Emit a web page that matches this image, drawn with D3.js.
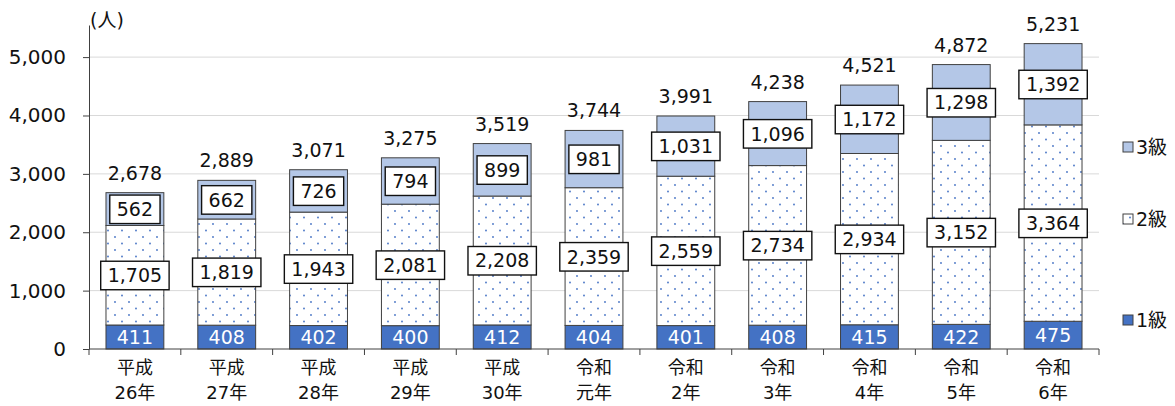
<!DOCTYPE html>
<html>
<head>
<meta charset="utf-8">
<script src="https://cdn.jsdelivr.net/npm/d3@7"></script>
<style>
  body { margin: 0; background: #fff; }
  text { font-family: "DejaVu Sans", "Noto Sans CJK JP", sans-serif; }
</style>
</head>
<body>
<div id="chart"></div>
<script>
// 年度
const years = ["平成,26年", "平成,27年", "平成,28年", "平成,29年", "平成,30年",
  "令和,元年", "令和,2年", "令和,3年", "令和,4年", "令和,5年", "令和,6年"];
// 等級ごとの人数
const kyu1 = [411, 408, 402, 400, 412, 404, 401, 408, 415, 422, 475];
const kyu2 = [1705, 1819, 1943, 2081, 2208, 2359, 2559, 2734, 2934, 3152, 3364];
const kyu3 = [562, 662, 726, 794, 899, 981, 1031, 1096, 1172, 1298, 1392];
const yTicks = [0, 1000, 2000, 3000, 4000, 5000];

const W = 1175, H = 406;
const svg = d3.select('#chart').append('svg')
  .attr('width', W)
  .attr('height', H);

const defs = svg.append('defs');
const pat = defs.append('pattern')
  .attr('id', 'dots')
  .attr('patternUnits', 'userSpaceOnUse')
  .attr('width', 14)
  .attr('height', 13);
pat.append('rect').attr('width', 14).attr('height', 13).attr('fill', '#fff');
pat.append('circle').attr('cx', 3).attr('cy', 3).attr('r', 0.9).attr('fill', '#4472c4');
pat.append('circle').attr('cx', 10).attr('cy', 9.5).attr('r', 0.9).attr('fill', '#4472c4');

const x = d3.scaleBand().domain(years).range([89, 1099]).paddingInner(0.37).paddingOuter(0.185);
const y = d3.scaleLinear().domain([0, 5550]).range([349, 25]);

// グリッド線
svg.selectAll('line.grid')
  .data(yTicks.slice(1))
  .enter()
  .append('line')
  .attr('x1', 89).attr('x2', 1099)
  .attr('y1', d => y(d)).attr('y2', d => y(d))
  .attr('stroke', '#d9d9d9').attr('stroke-width', 1);

// Y軸
const yAxis = svg.append('g')
  .attr('transform', 'translate(89,0)')
  .call(d3.axisLeft(y).tickValues(yTicks).tickSize(6).tickSizeOuter(0).tickPadding(17)
    .tickFormat(d3.format(',')));
yAxis.select('.domain').attr('stroke', '#404040');
yAxis.selectAll('.tick line').attr('stroke', '#404040');
yAxis.selectAll('.tick text').attr('font-size', 20).attr('fill', '#111')
  .attr('font-family', '"DejaVu Sans", sans-serif');

svg.append('text')
  .attr('x', 90).attr('y', 27)
  .attr('font-size', 19).attr('fill', '#111')
  .text('(人)');

const rows = years.map((yr, i) => ({
  yr, a: kyu1[i], b: kyu2[i], c: kyu3[i], total: kyu1[i] + kyu2[i] + kyu3[i]
}));

const bw = x.bandwidth();
const g = svg.selectAll('g.bar').data(rows).enter().append('g').attr('class', 'bar');

g.append('rect')
  .attr('x', d => x(d.yr)).attr('width', bw)
  .attr('y', d => y(d.a)).attr('height', d => y(0) - y(d.a))
  .attr('fill', '#4472c4').attr('stroke', '#404040').attr('stroke-width', 1);
g.append('rect')
  .attr('x', d => x(d.yr)).attr('width', bw)
  .attr('y', d => y(d.a + d.b)).attr('height', d => y(d.a) - y(d.a + d.b))
  .attr('fill', 'url(#dots)').attr('stroke', '#404040').attr('stroke-width', 1);
g.append('rect')
  .attr('x', d => x(d.yr)).attr('width', bw)
  .attr('y', d => y(d.total)).attr('height', d => y(d.a + d.b) - y(d.total))
  .attr('fill', '#b4c7e7').attr('stroke', '#404040').attr('stroke-width', 1);

const fmt = d3.format(',');

// 1級ラベル
g.append('text')
  .attr('x', d => x(d.yr) + bw / 2)
  .attr('y', d => (y(0) + y(d.a)) / 2 + 7)
  .attr('text-anchor', 'middle').attr('font-size', 19).attr('fill', '#fff')
  .text(d => fmt(d.a));

// 2級・3級ラベル(枠付き)
function boxLabel(sel, val, mid) {
  const t = sel.append('text')
    .attr('x', d => x(d.yr) + bw / 2)
    .attr('y', d => mid(d) + 7)
    .attr('text-anchor', 'middle').attr('font-size', 19).attr('fill', '#111')
    .text(d => fmt(val(d)));
  t.each(function (d) {
    const bb = this.getBBox();
    d3.select(this.parentNode).insert('rect', () => this)
      .attr('x', bb.x - 7).attr('y', mid(d) - 14)
      .attr('width', bb.width + 14).attr('height', 28.5)
      .attr('fill', '#fff').attr('stroke', '#111').attr('stroke-width', 1.4);
  });
}
boxLabel(g, d => d.b, d => (y(d.a) + y(d.a + d.b)) / 2);
boxLabel(g, d => d.c, d => (y(d.a + d.b) + y(d.total)) / 2);

// 合計
g.append('text')
  .attr('x', d => x(d.yr) + bw / 2)
  .attr('y', d => y(d.total) - 13)
  .attr('text-anchor', 'middle').attr('font-size', 19).attr('fill', '#111')
  .text(d => fmt(d.total));

// X軸
svg.append('line')
  .attr('x1', 89).attr('x2', 1099).attr('y1', 349).attr('y2', 349)
  .attr('stroke', '#404040');
const step = x.step();
svg.selectAll('line.xt')
  .data(d3.range(years.length + 1))
  .enter()
  .append('line')
  .attr('x1', i => 89 + i * step).attr('x2', i => 89 + i * step)
  .attr('y1', 349).attr('y2', 355)
  .attr('stroke', '#404040');

const xl = svg.selectAll('text.xl').data(years).enter().append('text')
  .attr('text-anchor', 'middle').attr('font-size', 18).attr('fill', '#111');
xl.append('tspan').attr('x', d => x(d) + bw / 2).attr('y', 374).text(d => d.split(',')[0]);
xl.append('tspan').attr('x', d => x(d) + bw / 2).attr('y', 399).text(d => d.split(',')[1]);

// 凡例
const legend = [
  { name: '3級', fill: '#b4c7e7', y: 147 },
  { name: '2級', fill: 'url(#dots)', y: 219 },
  { name: '1級', fill: '#4472c4', y: 320 }
];
const lg = svg.selectAll('g.lg').data(legend).enter().append('g');
lg.append('rect')
  .attr('x', 1123).attr('y', d => d.y - 5).attr('width', 10).attr('height', 10)
  .attr('fill', d => d.fill).attr('stroke', '#404040');
lg.append('text')
  .attr('x', 1136).attr('y', d => d.y + 7)
  .attr('font-size', 19).attr('fill', '#111')
  .text(d => d.name);
</script>
</body>
</html>
